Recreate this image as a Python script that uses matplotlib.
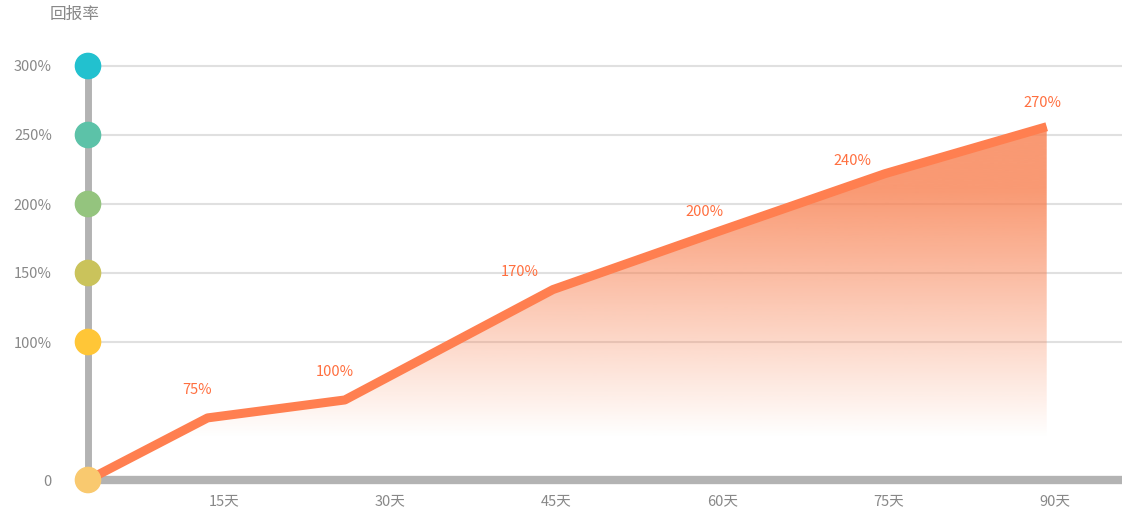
import numpy as np
import matplotlib.pyplot as plt
from matplotlib.patches import Polygon

plt.rcParams['font.family'] = ['Noto Sans CJK SC', 'DejaVu Sans']

# data
days = [2.7, 13.5, 25.9, 44.7, 59.6, 74.7, 89.3]
values = [0, 45, 58, 138, 180, 222, 256]
labels = ['', '75%', '100%', '170%', '200%', '240%', '270%']
label_off_px = [(0, 0), (-11, 28), (-10, 28), (-33, 18), (-13, 20), (-33, 13), (-4, 24)]
xticks = [15, 30, 45, 60, 75, 90]
xtick_labels = ['15天', '30天', '45天', '60天', '75天', '90天']
yticks = [0, 100, 150, 200, 250, 300]
ytick_labels = ['0', '100%', '150%', '200%', '250%', '300%']
dot_colors = ['#F9C96F', '#FFC637', '#CAC35B', '#94C47E', '#5CC2A8', '#22C1CF']

fig = plt.figure(figsize=(11.22, 5.22), dpi=100)
ax = fig.add_axes([88 / 1122, 42 / 522, 1 - 88 / 1122, (480 - 38.4) / 522])
ax.set_xlim(2.7, 96.1)
ax.set_ylim(0, 320)

for t in yticks[1:]:
    ax.axhline(t, color='#E0E0E0', lw=1.5, zorder=0)

# gradient fill
grad = np.linspace(0, 1, 256)
cmap_img = np.zeros((256, 1, 4))
cmap_img[:, 0, 0] = 0xF8 / 255
cmap_img[:, 0, 1] = 0x80 / 255
cmap_img[:, 0, 2] = 0x50 / 255
cmap_img[:, 0, 3] = np.clip((grad - 0.12) / 0.7, 0, 1) * 0.8
im = ax.imshow(cmap_img, extent=[days[0], days[-1], 0, max(values)], origin='lower',
               aspect='auto', zorder=1)
poly = Polygon(list(zip(days, values)) + [(days[-1], 0), (days[0], 0)], closed=True,
               transform=ax.transData, facecolor='none', edgecolor='none')
ax.add_patch(poly)
im.set_clip_path(poly)
ax.set_xlim(2.7, 96.1)
ax.set_ylim(0, 320)

ax.plot(days, values, color='#FF7F50', lw=6.5, solid_capstyle='butt', zorder=3)

for d, v, lab, (dx, dy) in zip(days, values, labels, label_off_px):
    if lab:
        ax.annotate(lab, (d, v), xytext=(dx * 0.72, dy * 0.72), textcoords='offset points',
                    ha='center', va='center', color='#FF6F3F', fontsize=10.5)

for s in ['top', 'right']:
    ax.spines[s].set_visible(False)
ax.spines['left'].set_color('#B3B3B3')
ax.spines['left'].set_linewidth(5)
ax.spines['bottom'].set_color('#B3B3B3')
ax.spines['bottom'].set_linewidth(6)
ax.spines['left'].set_bounds(0, 300)

ax.scatter([days[0]] * len(yticks), yticks, s=330, c=dot_colors, zorder=5, clip_on=False)

ax.set_xticks(xticks)
ax.set_xticklabels(xtick_labels)
ax.set_yticks(yticks)
ax.set_yticklabels(ytick_labels)
ax.tick_params(length=0, colors='#888888', labelsize=10.5)
ax.tick_params(axis='y', pad=26)
ax.tick_params(axis='x', pad=10)

fig.text(50 / 1122, 1 - 14 / 522, '回报率', color='#888888', fontsize=12, ha='left', va='center')

fig.savefig('out.png', dpi=100)
